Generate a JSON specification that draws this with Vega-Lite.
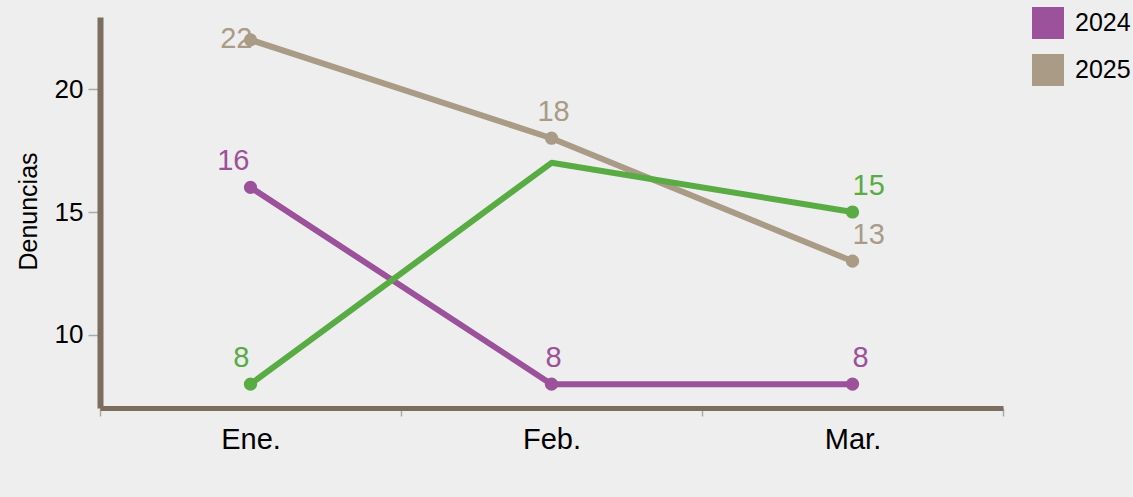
{
  "$schema": "https://vega.github.io/schema/vega-lite/v6.json",
  "width": 903,
  "height": 391,
  "autosize": {"type": "none"},
  "padding": {"left": 100, "top": 17, "right": 130, "bottom": 89},
  "background": "#eeeeee",
  "config": {
    "view": {"stroke": null},
    "font": "Liberation Sans",
    "axis": {"grid": false}
  },
  "data": {
    "values": [
      {"serie": "2025", "mes": "Ene.", "valor": 22, "etiqueta": "22"},
      {"serie": "2025", "mes": "Feb.", "valor": 18, "etiqueta": "18"},
      {"serie": "2025", "mes": "Mar.", "valor": 13, "etiqueta": "13"},
      {"serie": "2024", "mes": "Ene.", "valor": 16, "etiqueta": "16"},
      {"serie": "2024", "mes": "Feb.", "valor": 8, "etiqueta": "8"},
      {"serie": "2024", "mes": "Mar.", "valor": 8, "etiqueta": "8"},
      {"serie": "2023", "mes": "Ene.", "valor": 8, "etiqueta": "8"},
      {"serie": "2023", "mes": "Feb.", "valor": 17, "etiqueta": null},
      {"serie": "2023", "mes": "Mar.", "valor": 15, "etiqueta": "15"}
    ]
  },
  "encoding": {
    "x": {
      "field": "mes",
      "type": "nominal",
      "sort": ["Ene.", "Feb.", "Mar."],
      "scale": {"type": "band", "paddingInner": 0, "paddingOuter": 0},
      "axis": {
        "title": null,
        "labelAngle": 0,
        "labelFontSize": 29,
        "labelColor": "#000000",
        "labelBaseline": "alphabetic",
        "labelPadding": 32,
        "tickSize": 8,
        "tickColor": "#aaaaaa",
        "tickWidth": 1.5,
        "tickBand": "extent",
        "domainColor": "#7c6e5e",
        "domainWidth": 5
      }
    },
    "y": {
      "field": "valor",
      "type": "quantitative",
      "scale": {"domain": [7.03, 22.93], "nice": false, "zero": false},
      "axis": {
        "title": "Denuncias",
        "titleFontSize": 25,
        "titleFontWeight": "normal",
        "titleColor": "#000000",
        "titleAngle": -90,
        "titleX": -72,
        "titleY": 194,
        "titleAlign": "center",
        "titleBaseline": "middle",
        "values": [10, 15, 20],
        "labelFontSize": 26,
        "labelColor": "#000000",
        "labelPadding": 5,
        "tickSize": 12,
        "tickColor": "#aaaaaa",
        "tickWidth": 1.5,
        "domainColor": "#7c6e5e",
        "domainWidth": 6
      }
    },
    "color": {
      "field": "serie",
      "type": "nominal",
      "scale": {
        "domain": ["2024", "2025", "2023"],
        "range": ["#9c519b", "#a99b86", "#59ab44"]
      },
      "legend": {
        "title": null,
        "values": ["2024", "2025"],
        "orient": "none",
        "legendX": 932,
        "legendY": -10,
        "padding": 0,
        "symbolType": "square",
        "symbolSize": 1024,
        "symbolStrokeWidth": 0,
        "labelFontSize": 25,
        "labelColor": "#000000",
        "labelOffset": 11,
        "rowPadding": 15,
        "encode": {
          "symbols": {
            "update": {
              "fill": {"scale": "color", "field": "value"},
              "opacity": {"value": 1},
              "strokeWidth": {"value": 0}
            }
          }
        }
      }
    }
  },
  "layer": [
    {
      "mark": {"type": "line", "strokeWidth": 6, "strokeJoin": "round"}
    },
    {
      "transform": [{"filter": "isValid(datum.etiqueta)"}],
      "mark": {"type": "circle", "size": 175, "opacity": 1}
    },
    {
      "transform": [{"filter": "isValid(datum.etiqueta) && datum.mes === 'Ene.' && datum.valor <= 21"}],
      "mark": {"type": "text", "align": "right", "baseline": "alphabetic", "dx": -1, "dy": -17, "fontSize": 29},
      "encoding": {"text": {"field": "etiqueta"}}
    },
    {
      "transform": [{"filter": "isValid(datum.etiqueta) && datum.mes === 'Ene.' && datum.valor > 21"}],
      "mark": {"type": "text", "align": "right", "baseline": "alphabetic", "dx": 2, "dy": 8, "fontSize": 29},
      "encoding": {"text": {"field": "etiqueta"}}
    },
    {
      "transform": [{"filter": "isValid(datum.etiqueta) && datum.mes === 'Feb.'"}],
      "mark": {"type": "text", "align": "center", "baseline": "alphabetic", "dx": 2, "dy": -17, "fontSize": 29},
      "encoding": {"text": {"field": "etiqueta"}}
    },
    {
      "transform": [{"filter": "isValid(datum.etiqueta) && datum.mes === 'Mar.'"}],
      "mark": {"type": "text", "align": "left", "baseline": "alphabetic", "dx": 0, "dy": -17, "fontSize": 29},
      "encoding": {"text": {"field": "etiqueta"}}
    }
  ]
}
